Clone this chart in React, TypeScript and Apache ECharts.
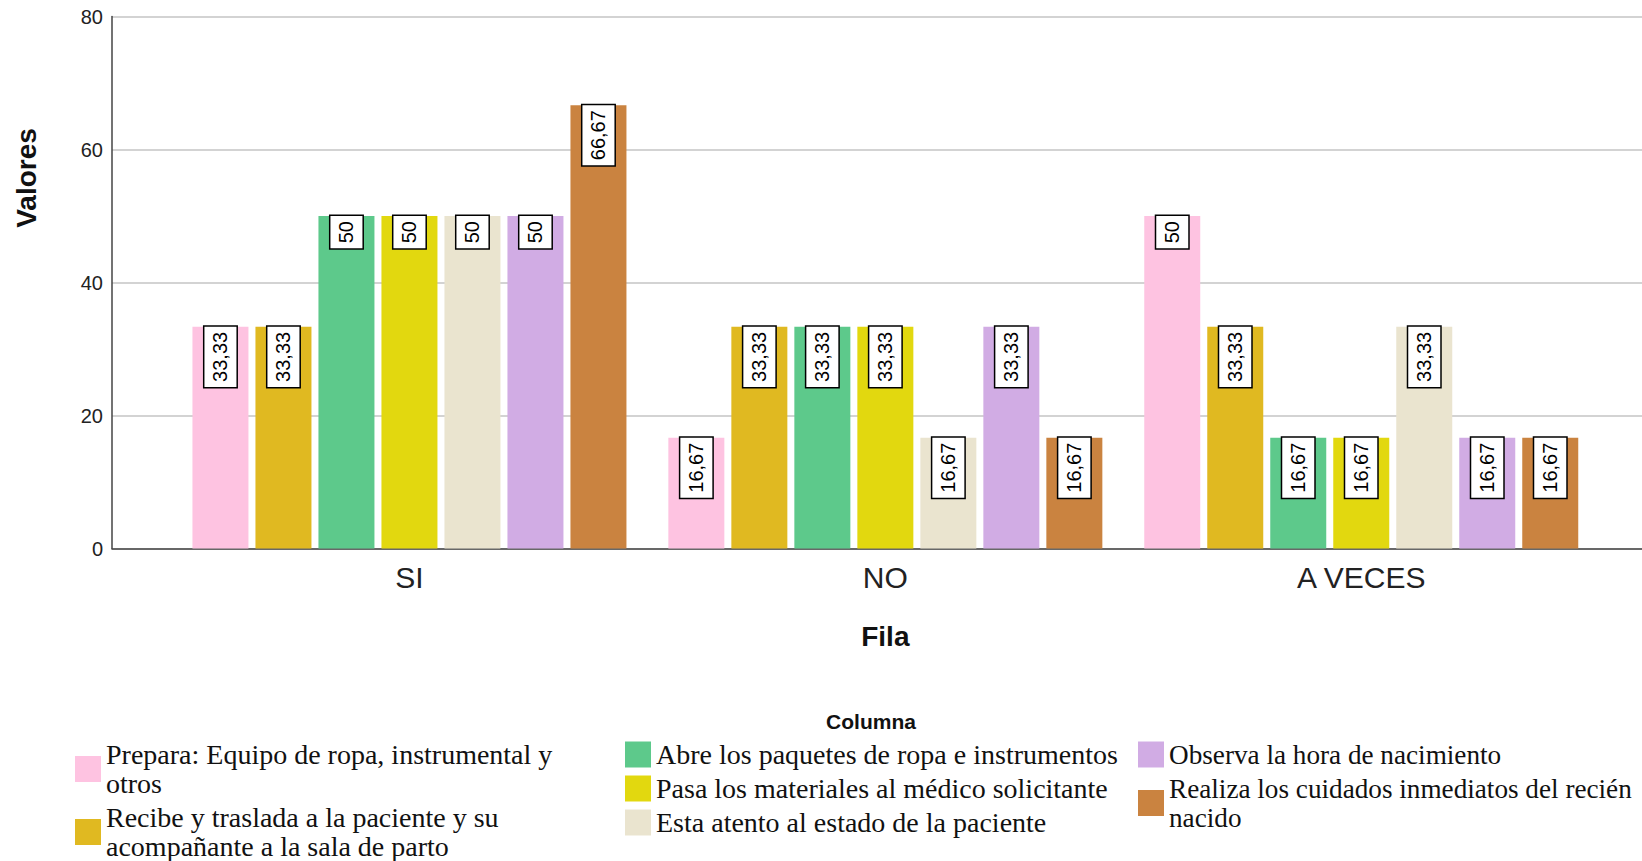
import React, { useEffect, useRef } from "react";
import * as echarts from "echarts";

// Row categories on the x axis
const categories = ["SI", "NO", "A VECES"];

// Column series (legend entries), in legend order
const seriesNames = [
  "Prepara: Equipo de ropa, instrumental y otros",
  "Recibe y traslada a la paciente y su acompañante a la sala de parto",
  "Abre los paquetes de ropa e instrumentos",
  "Pasa los materiales al médico solicitante",
  "Esta atento al estado de la paciente",
  "Observa la hora de nacimiento",
  "Realiza los cuidados inmediatos del recién nacido",
];

// Wrapped legend labels
const legendLabels: Record<string, string> = {
  "Prepara: Equipo de ropa, instrumental y otros": "Prepara: Equipo de ropa, instrumental y\notros",
  "Recibe y traslada a la paciente y su acompañante a la sala de parto":
    "Recibe y traslada a la paciente y su\nacompañante a la sala de parto",
  "Realiza los cuidados inmediatos del recién nacido":
    "Realiza los cuidados inmediatos del recién\nnacido",
};

// Percentages per series, one value per category (SI, NO, A VECES)
const preparaValues = [33.33, 16.67, 50];
const recibeValues = [33.33, 33.33, 33.33];
const abreValues = [50, 33.33, 16.67];
const pasaValues = [50, 33.33, 16.67];
const atentoValues = [50, 16.67, 33.33];
const observaValues = [50, 33.33, 16.67];
const realizaValues = [66.67, 16.67, 16.67];

const seriesValues = [
  preparaValues,
  recibeValues,
  abreValues,
  pasaValues,
  atentoValues,
  observaValues,
  realizaValues,
];

const seriesColors = [
  "#FEC3E1",
  "#E0B921",
  "#5DC98B",
  "#E2D80F",
  "#EAE4CF",
  "#D1ACE4",
  "#CA8340",
];

const yTicks = [0, 20, 40, 60, 80];

const SANS = "'Liberation Sans', Arial, sans-serif";
const SERIF = "'Liberation Serif', 'Times New Roman', serif";

const GRID_TOP = 16.5;
const GRID_HEIGHT = 532;

function formatValue(v: number): string {
  return String(v).replace(".", ",");
}

function legendColumn(left: number, names: string[], fontSize: number) {
  return {
    orient: "vertical" as const,
    left,
    top: 740,
    padding: 0,
    itemGap: 5,
    itemWidth: 26,
    itemHeight: 26,
    icon: "rect",
    selectedMode: false,
    data: names,
    formatter: (name: string) => legendLabels[name] ?? name,
    textStyle: {
      fontFamily: SERIF,
      fontSize,
      lineHeight: 29,
      color: "#111",
    },
  };
}

export default function App() {
  const ref = useRef<HTMLDivElement>(null);

  useEffect(() => {
    if (!ref.current) return;
    const chart = echarts.init(ref.current, undefined, { renderer: "svg" });

    chart.setOption({
      animation: false,
      backgroundColor: "#fff",
      grid: [
        // frame grid: y axis, gridlines and baseline across the full width
        { left: 112, right: 0, top: GRID_TOP, height: GRID_HEIGHT },
        // bar grid: category bands
        { left: 171.5, width: 1427.7, top: GRID_TOP, height: GRID_HEIGHT },
      ],
      xAxis: [
        {
          gridIndex: 0,
          type: "value",
          min: 0,
          max: 1,
          axisLine: { show: true, lineStyle: { color: "#444", width: 1.5 } },
          axisTick: { show: false },
          axisLabel: { show: false },
          splitLine: { show: false },
        },
        {
          gridIndex: 1,
          type: "category",
          data: categories,
          axisLine: { show: false },
          axisTick: { show: false },
          axisLabel: {
            fontFamily: SANS,
            fontSize: 30,
            color: "#222",
            margin: 14,
          },
          name: "Fila",
          nameLocation: "middle",
          nameGap: 74,
          nameTextStyle: {
            fontFamily: SANS,
            fontSize: 28,
            fontWeight: "bold",
            color: "#111",
          },
        },
      ],
      yAxis: [
        {
          gridIndex: 0,
          type: "value",
          min: yTicks[0],
          max: yTicks[yTicks.length - 1],
          interval: yTicks[1] - yTicks[0],
          axisLine: { show: true, lineStyle: { color: "#444", width: 1.5 } },
          axisTick: { show: false },
          axisLabel: {
            fontFamily: SANS,
            fontSize: 20,
            color: "#222",
            margin: 9,
          },
          splitLine: { show: true, lineStyle: { color: "#D3D3D3", width: 2 } },
        },
        {
          gridIndex: 1,
          type: "value",
          min: yTicks[0],
          max: yTicks[yTicks.length - 1],
          show: false,
        },
      ],
      legend: [
        legendColumn(75, [seriesNames[0], seriesNames[1]], 28),
        legendColumn(625, [seriesNames[2], seriesNames[3], seriesNames[4]], 28),
        legendColumn(1138, [seriesNames[5], seriesNames[6]], 27.2),
      ],
      graphic: [
        // y axis title, set above the axis middle
        {
          type: "text",
          x: 26,
          y: 178,
          rotation: Math.PI / 2,
          style: {
            text: "Valores",
            font: `bold 28px ${SANS}`,
            fill: "#111",
            textAlign: "center",
            textVerticalAlign: "middle",
          },
        },
        // legend title
        {
          type: "text",
          x: 871,
          y: 721,
          style: {
            text: "Columna",
            font: `bold 21px ${SANS}`,
            fill: "#111",
            textAlign: "center",
            textVerticalAlign: "middle",
          },
        },
      ],
      series: seriesNames.map((name, i) => ({
        name,
        type: "bar",
        xAxisIndex: 1,
        yAxisIndex: 1,
        data: seriesValues[i],
        barWidth: 56,
        barGap: "12.5%",
        itemStyle: { color: seriesColors[i] },
        label: {
          show: true,
          position: "insideTop",
          distance: 0,
          rotate: 90,
          align: "right",
          verticalAlign: "middle",
          formatter: (p: any) => formatValue(p.value),
          fontFamily: SANS,
          fontSize: 20,
          lineHeight: 20,
          color: "#000",
          backgroundColor: "#fff",
          borderColor: "#000",
          borderWidth: 1.5,
          padding: [6, 5, 6, 5],
        },
      })),
    });

    return () => chart.dispose();
  }, []);

  return (
    <div
      ref={ref}
      style={{ position: "fixed", left: 0, top: 0, width: 1642, height: 861 }}
    />
  );
}
